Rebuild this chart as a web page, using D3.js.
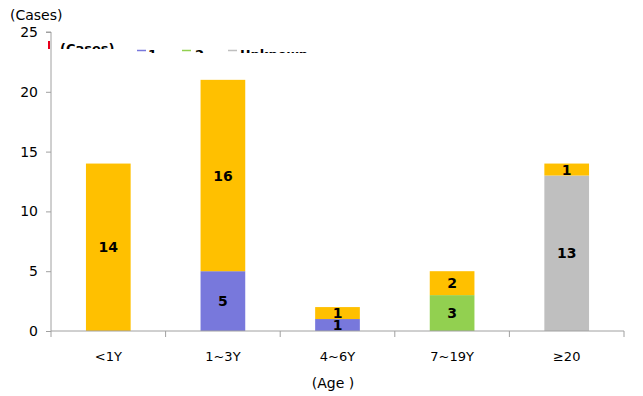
<!DOCTYPE html>
<html>
<head>
<meta charset="utf-8">
<script src="https://cdn.jsdelivr.net/npm/d3@7"></script>
<style>
  body { margin: 0; background: #fff; }
  text { font-family: "DejaVu Sans", sans-serif; fill: #000; }
</style>
</head>
<body>
<div id="chart"></div>
<script>
// chart data
var ageGroups = ["<1Y", "1~3Y", "4~6Y", "7~19Y", "≥20"];
var seriesNames = ["1", "2", "Unknown", "(Cases)"];   // stacked bottom to top
var series1 = [0, 5, 1, 0, 0];
var series2 = [0, 0, 0, 3, 0];
var seriesUnknown = [0, 0, 0, 0, 13];
var seriesCases = [14, 16, 1, 2, 1];
var yTicks = [0, 5, 10, 15, 20, 25];

var colors = {"1": "#7878dc", "2": "#92d050", "Unknown": "#bfbfbf", "(Cases)": "#ffc000"};

var margin = {top: 32, right: 19, bottom: 65, left: 51},
    width = 643 - margin.left - margin.right,
    height = 396 - margin.top - margin.bottom;

var rows = ageGroups.map(function(g, i) {
    return {group: g, "1": series1[i], "2": series2[i], "Unknown": seriesUnknown[i], "(Cases)": seriesCases[i]};
});

var stacked = d3.stack().keys(seriesNames)(rows);

var svg = d3.select("#chart").append("svg")
    .attr("width", 643)
    .attr("height", 396);

var g = svg.append("g")
    .attr("transform", "translate(" + margin.left + "," + margin.top + ")");

var x = d3.scaleBand()
    .domain(ageGroups)
    .range([0, width])
    .paddingInner(0.61)
    .paddingOuter(0.305);

var y = d3.scaleLinear()
    .domain([0, 25])
    .range([height, 0]);

// bars
var layer = g.selectAll(".layer")
    .data(stacked)
    .enter().append("g")
    .attr("class", "layer")
    .attr("fill", function(d) { return colors[d.key]; });

layer.selectAll("rect")
    .data(function(d) { return d; })
    .enter().append("rect")
    .attr("x", function(d) { return x(d.data.group); })
    .attr("y", function(d) { return y(d[1]); })
    .attr("width", x.bandwidth())
    .attr("height", function(d) { return y(d[0]) - y(d[1]); });

// value labels
layer.selectAll("text")
    .data(function(d) { return d.filter(function(v) { return v[1] - v[0] > 0; }); })
    .enter().append("text")
    .attr("x", function(d) { return x(d.data.group) + x.bandwidth() / 2; })
    .attr("y", function(d) { return (y(d[0]) + y(d[1])) / 2 + 5; })
    .attr("text-anchor", "middle")
    .style("font-size", "14px")
    .style("font-weight", "bold")
    .text(function(d) { return d[1] - d[0]; });

// y axis
var yAxis = g.append("g")
    .call(d3.axisLeft(y).tickValues(yTicks).tickSize(5).tickPadding(8));
yAxis.selectAll("path, line").attr("stroke", "#a0a0a0");
yAxis.selectAll("text").style("font-size", "14px");
yAxis.select(".domain").attr("d", "M0," + height + "V0H-5");

// x axis with ticks between categories
var xAxis = g.append("g")
    .attr("transform", "translate(0," + height + ")");
xAxis.append("line")
    .attr("x1", 0).attr("x2", width)
    .attr("stroke", "#a0a0a0");
var step = x.step();
xAxis.selectAll(".sep")
    .data(d3.range(ageGroups.length + 1))
    .enter().append("line")
    .attr("x1", function(i) { return x(ageGroups[0]) - x.paddingOuter() * step + i * step; })
    .attr("x2", function(i) { return x(ageGroups[0]) - x.paddingOuter() * step + i * step; })
    .attr("y1", 0).attr("y2", 6)
    .attr("stroke", "#a0a0a0");
xAxis.selectAll(".lbl")
    .data(ageGroups)
    .enter().append("text")
    .attr("x", function(d) { return x(d) + x.bandwidth() / 2; })
    .attr("y", 30)
    .attr("text-anchor", "middle")
    .style("font-size", "13px")
    .text(function(d) { return d; });

// axis titles
svg.append("text")
    .attr("x", 10).attr("y", 20)
    .style("font-size", "14px")
    .text("(Cases)");
svg.append("text")
    .attr("x", 333).attr("y", 388)
    .attr("text-anchor", "middle")
    .style("font-size", "14px")
    .text("(Age )");

// legend (clipped, only the top part shows)
var defs = svg.append("defs");
defs.append("clipPath").attr("id", "clipA")
    .append("rect").attr("x", 45).attr("y", 40).attr("width", 80).attr("height", 9);
defs.append("clipPath").attr("id", "clipB")
    .append("rect").attr("x", 125).attr("y", 40).attr("width", 200).attr("height", 13);

var legA = svg.append("g").attr("clip-path", "url(#clipA)");
legA.append("rect")
    .attr("x", 48).attr("y", 41).attr("width", 2).attr("height", 8)
    .attr("fill", "#e8001c");
legA.append("text")
    .attr("x", 60).attr("y", 53)
    .style("font-size", "13px")
    .style("font-weight", "bold")
    .text("(Cases)");

var legendItems = [
    {name: "1", lx: 137, tx: 148},
    {name: "2", lx: 182, tx: 195},
    {name: "Unknown", lx: 228, tx: 240}
];
var legB = svg.append("g").attr("clip-path", "url(#clipB)");
legB.selectAll("line")
    .data(legendItems)
    .enter().append("line")
    .attr("x1", function(d) { return d.lx; })
    .attr("x2", function(d) { return d.lx + 9; })
    .attr("y1", 50.5).attr("y2", 50.5)
    .attr("stroke", function(d) { return colors[d.name]; })
    .attr("stroke-width", 1.5);
legB.selectAll("text")
    .data(legendItems)
    .enter().append("text")
    .attr("x", function(d) { return d.tx; })
    .attr("y", 59)
    .style("font-size", "13px")
    .style("font-weight", "bold")
    .text(function(d) { return d.name; });
</script>
</body>
</html>
